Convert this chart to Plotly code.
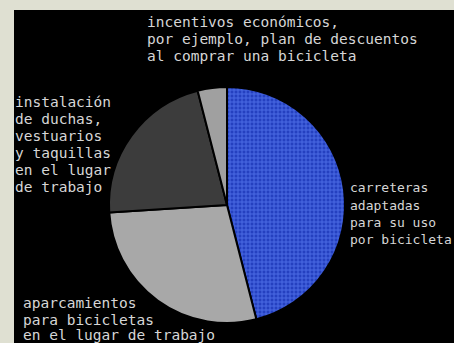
import plotly.graph_objects as go

# Data
categories = [
    "carreteras adaptadas para su uso por bicicleta",
    "aparcamientos para bicicletas en el lugar de trabajo",
    "instalación de duchas, vestuarios y taquillas en el lugar de trabajo",
    "incentivos económicos, por ejemplo, plan de descuentos al comprar una bicicleta",
]
values = [46, 28, 22, 4]
slice_colors = ["#2440c0", "#a8a8a8", "#3c3c3c", "#a0a0a0"]
pattern_fg = ["#4a6ae4", "#a8a8a8", "#3c3c3c", "#a0a0a0"]

label_top = ["incentivos económicos,", "por ejemplo, plan de descuentos", "al comprar una bicicleta"]
label_left = ["instalación", "de duchas,", "vestuarios", "y taquillas", "en el lugar", "de trabajo"]
label_right = ["carreteras", "adaptadas", "para su uso", "por bicicleta"]
label_bottom = ["aparcamientos", "para bicicletas", "en el lugar de trabajo"]

W, H = 454, 343

fig = go.Figure(go.Pie(
    labels=categories,
    values=values,
    sort=False,
    direction="clockwise",
    rotation=0,
    textinfo="none",
    hoverinfo="skip",
    showlegend=False,
    marker=dict(
        colors=slice_colors,
        line=dict(color="#000000", width=2),
        pattern=dict(shape=["+", "", "", ""], bgcolor=slice_colors,
                     fgcolor=pattern_fg, size=4, solidity=0.45,
                     fillmode="replace"),
    ),
    domain=dict(x=[109 / W, 345 / W], y=[1 - 323 / H, 1 - 87 / H]),
))

annotations = []
def add_lines(lines, x_px, y_px_list, size=14.5):
    for txt, y in zip(lines, y_px_list):
        annotations.append(dict(
            text=txt, x=x_px / W, y=1 - y / H, xref="paper", yref="paper",
            xanchor="left", yanchor="middle", showarrow=False, borderpad=0,
            font=dict(family="DejaVu Sans Mono", size=size, color="#d6d6d6"),
        ))

add_lines(label_top, 146, [22, 39, 56])
add_lines(label_left, 14, [102, 119, 136, 153, 170, 187])
add_lines(label_right, 349, [188, 205, 222, 239], size=13)
add_lines(label_bottom, 22, [303, 320, 335])

fig.update_layout(
    width=W, height=H,
    margin=dict(l=0, r=0, t=0, b=0),
    paper_bgcolor="#dfe0d2",
    plot_bgcolor="#000000",
    shapes=[dict(type="rect", xref="paper", yref="paper",
                 x0=14 / W, x1=1, y0=0, y1=1 - 10 / H,
                 fillcolor="#000000", line=dict(width=0), layer="below")],
    annotations=annotations,
)

fig.write_html("out.html", config={"displayModeBar": False},
               post_script="document.body.style.margin='0';document.body.style.overflow='hidden';")
